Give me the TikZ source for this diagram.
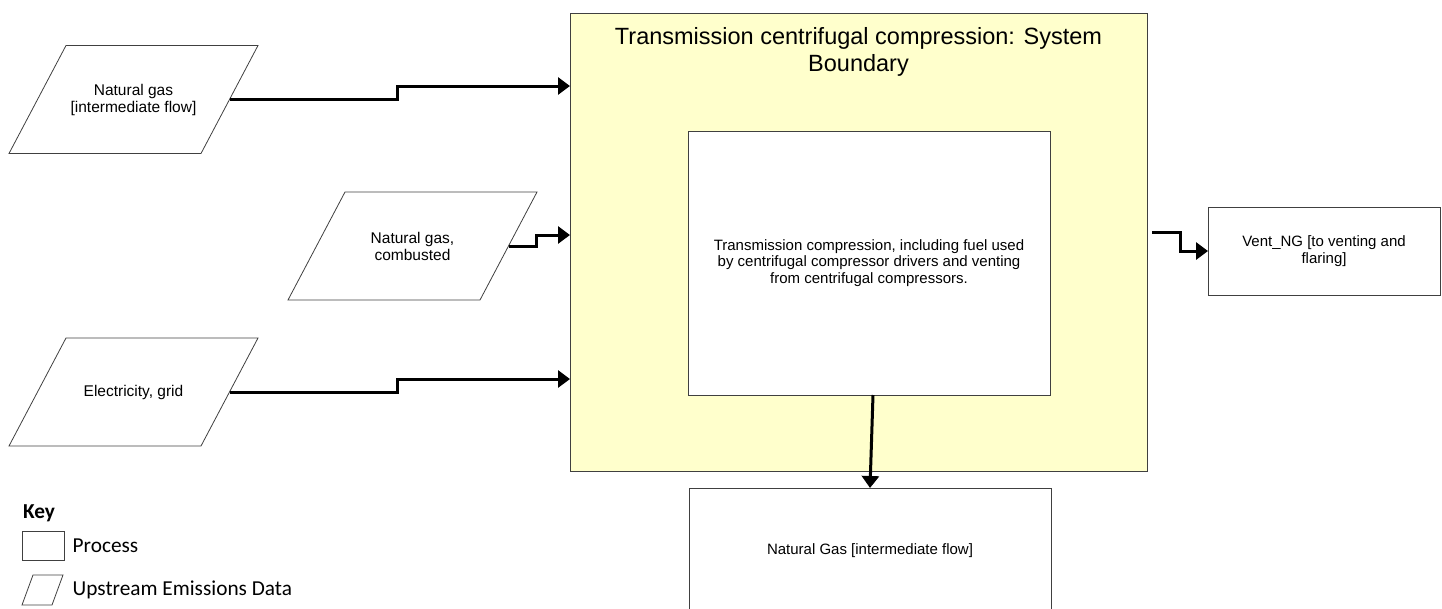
\documentclass[tikz,border=0pt]{standalone}
\usepackage{fontspec}
\setmainfont{Liberation Sans}
\newfontfamily\keyfont{Carlito}
\usepackage{xcolor}
\usepackage{tikz}
\usetikzlibrary{arrows.meta,positioning,calc}
\definecolor{boundfill}{HTML}{FFFFCC}
\definecolor{edgegray}{HTML}{404040}
\newcommand{\dataoutline}[2]{\draw[dataedge] ([xshift=-#2]#1.south west) -- ([xshift=#2]#1.north west) -- ([xshift=#2]#1.north east) -- ([xshift=-#2]#1.south east) -- cycle;}

\begin{document}
\begin{tikzpicture}[x=1pt, y=-1pt, >={Triangle[length=12pt, width=17pt]},
        proc/.style={draw=edgegray, fill=white, line width=1pt, align=center, inner sep=0pt, outer sep=0pt, font=\fontsize{15}{16.5}\selectfont},
        data/.style={align=center, inner sep=0pt, outer sep=0pt, minimum width=192pt, minimum height=108pt, font=\fontsize{15.5}{17}\selectfont},
        dataedge/.style={draw=edgegray, line width=0.8pt, line join=miter},
        flow/.style={->, line width=3pt},
        keytext/.style={font=\keyfont\fontsize{21.3}{25}\selectfont, anchor=west, inner sep=0pt}]
        \useasboundingbox (0,0) rectangle (1442,608);

        \node[draw=edgegray, line width=1pt, fill=boundfill, minimum width=577pt, minimum height=458pt, inner sep=0pt, outer sep=0pt] (sysb) at (858.5,242) {};
        \node[font=\fontsize{23.5}{27}\selectfont, align=center, inner sep=0pt, below=14pt of sysb.north] (sysbtitle) {Transmission centrifugal compression: System\\Boundary};

        \node[data] (nginter) at (133.5,99.5) {Natural gas\\{}[intermediate flow]};
        \node[data] (ngcomb) at (412.5,246) {Natural gas,\\combusted};
        \node[data] (elecgrid) at (133.5,392) {Electricity, grid};
        \dataoutline{nginter}{28.5pt}
        \dataoutline{ngcomb}{28.5pt}
        \dataoutline{elecgrid}{28.5pt}

        \node[proc, minimum width=362pt, minimum height=264pt] (compr) at (869,263) {Transmission compression, including fuel used\\by centrifugal compressor drivers and venting\\from centrifugal compressors.};
        \node[proc, minimum width=362pt, minimum height=126pt] (ngout) at (870,551) {Natural Gas [intermediate flow]};
        \node[proc, minimum width=232pt, minimum height=88pt] (vent) at (1324,251) {Vent\_NG [to venting and\\flaring]};
        \coordinate (ventsrc) at (1152,232);

        \draw[flow] (nginter.east) -- ++(168,0) |- (sysb.west |- 0,86);
        \draw[flow] (ngcomb.east) -- ++(28,0) |- (sysb.west |- 0,235);
        \draw[flow] (elecgrid.east) -- ++(168,0) |- (sysb.west |- 0,379);
        \draw[flow] ([xshift=4pt]compr.south) -- (ngout.north);
        \draw[flow] (ventsrc) -- ++(28,0) |- (vent.west);

        \node[keytext, font=\keyfont\bfseries\fontsize{21.3}{25}\selectfont] (keyhead) at (23,513) {Key};
        \node[draw=edgegray, line width=1pt, minimum width=42pt, minimum height=29pt, inner sep=0pt] (keyproc) at (43,545.5) {};
        \node[keytext, right=8pt of keyproc] (keyproclbl) {Process};
        \node[inner sep=0pt, outer sep=0pt, minimum width=30pt, minimum height=30pt] (keydata) at (42.5,590) {};
        \dataoutline{keydata}{5.5pt}
        \node[keytext] (keydatalbl) at (keyproclbl.west |- keydata) {Upstream Emissions Data};
    \end{tikzpicture}
\end{document}
